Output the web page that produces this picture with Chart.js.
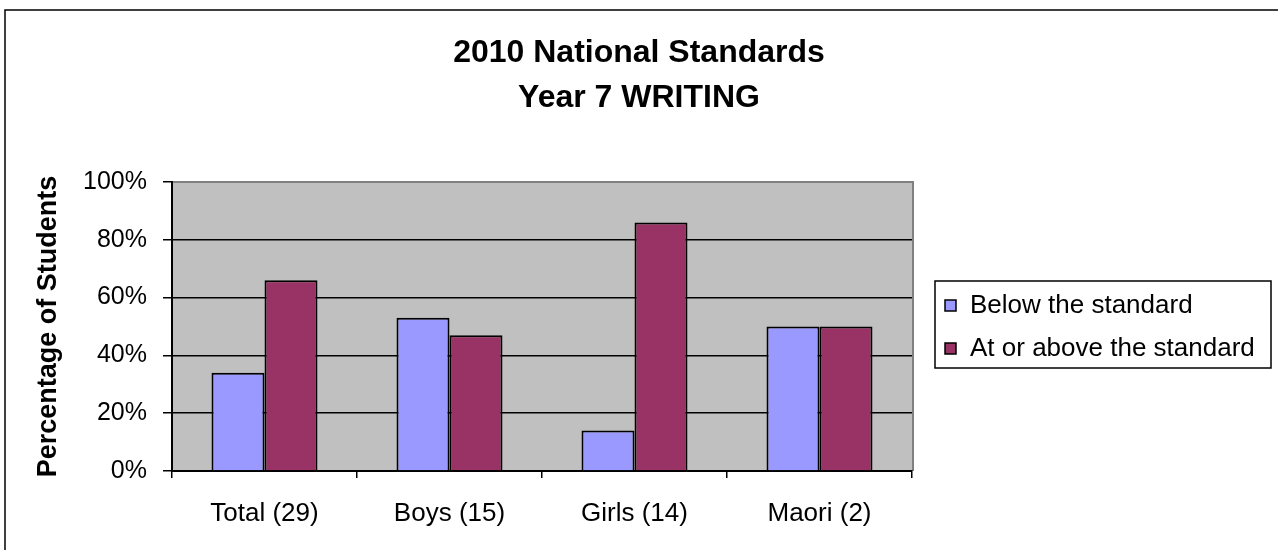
<!DOCTYPE html>
<html>
<head>
<meta charset="utf-8">
<script src="https://cdn.jsdelivr.net/npm/chart.js@4"></script>
<style>
  body { margin: 0; background: #fff; }
  canvas { display: block; }
</style>
</head>
<body>
<canvas id="myChart" width="1278" height="550"></canvas>
<script>
// Datos
const categorias = ['Total (29)', 'Boys (15)', 'Girls (14)', 'Maori (2)']
const debajo = [34, 53, 14, 50]
const encima = [66, 47, 86, 50]
const nombresSeries = ['Below the standard', 'At or above the standard']
const coloresSeries = ['#9999FF', '#993366']
const tituloLineas = ['2010 National Standards', 'Year 7 WRITING']
const tituloEjeY = 'Percentage of Students'

const ctx = document.getElementById('myChart')
const fuente = "'Liberation Sans', Arial, sans-serif"
Chart.defaults.font.family = fuente
Chart.defaults.color = '#000'

// Fondo gris del area, marco exterior y borde gris del area
const fondoPlugin = {
    id: 'fondo',
    beforeDraw: chart => {
        const c = chart.ctx
        const a = chart.chartArea
        c.save()
        c.fillStyle = '#fff'
        c.fillRect(0, 0, chart.width, chart.height)
        c.strokeStyle = '#000'
        c.lineWidth = 1.5
        c.strokeRect(5, 10, chart.width + 20, chart.height + 20)
        c.fillStyle = '#C0C0C0'
        c.fillRect(a.left, a.top, a.right - a.left, a.bottom - a.top)
        c.strokeStyle = '#808080'
        c.lineWidth = 2
        c.beginPath()
        c.moveTo(a.left, a.top)
        c.lineTo(a.right + 1, a.top)
        c.lineTo(a.right + 1, a.bottom)
        c.stroke()
        c.restore()
    }
}

// Titulo centrado en todo el lienzo (el de Chart.js se centra sin la leyenda)
const tituloPlugin = {
    id: 'tituloCentrado',
    afterDraw: chart => {
        const c = chart.ctx
        c.save()
        c.font = 'bold 32px ' + fuente
        c.fillStyle = '#000'
        c.textAlign = 'center'
        c.textBaseline = 'middle'
        tituloLineas.forEach((linea, i) => {
            c.fillText(linea, chart.width / 2, 53 + i * 45)
        })
        c.restore()
    }
}

// Leyenda con recuadro, a partir de los datasets
const leyendaPlugin = {
    id: 'leyendaCaja',
    afterDraw: chart => {
        const c = chart.ctx
        const a = chart.chartArea
        const x = a.right + 23
        const y = 281
        const w = 336
        const h = 87
        c.save()
        c.strokeStyle = '#000'
        c.lineWidth = 1.5
        c.strokeRect(x, y, w, h)
        c.font = '26px ' + fuente
        c.textBaseline = 'middle'
        chart.data.datasets.forEach((ds, i) => {
            const cy = y + 24 + i * 43
            c.fillStyle = ds.backgroundColor
            c.fillRect(x + 10, cy - 5, 11, 11)
            c.strokeStyle = '#000'
            c.lineWidth = 1.5
            c.strokeRect(x + 10, cy - 5, 11, 11)
            c.fillStyle = '#000'
            c.fillText(ds.label, x + 35, cy + 1)
        })
        c.restore()
    }
}

const data = {
    labels: categorias,
    datasets: [
        { label: nombresSeries[0], data: debajo, backgroundColor: coloresSeries[0] },
        { label: nombresSeries[1], data: encima, backgroundColor: coloresSeries[1] }
    ]
}

new Chart(ctx, {
    type: 'bar',
    data,
    plugins: [fondoPlugin, tituloPlugin, leyendaPlugin],
    options: {
        responsive: false,
        animation: false,
        layout: { padding: { left: 0, right: 366, top: 182, bottom: 0 } },
        datasets: {
            bar: {
                borderColor: '#000',
                borderWidth: 2,
                barPercentage: 1,
                categoryPercentage: 0.573
            }
        },
        plugins: {
            legend: { display: false },
            tooltip: { enabled: false },
            title: { display: false }
        },
        scales: {
            x: {
                afterFit: s => { s.height = 79 },
                grid: {
                    display: true,
                    drawOnChartArea: false,
                    drawTicks: true,
                    tickLength: 7,
                    color: '#000',
                    lineWidth: 1.5,
                    offset: true
                },
                border: { color: '#000', width: 2 },
                ticks: { font: { size: 26 }, padding: 20, color: '#000' }
            },
            y: {
                min: 0,
                max: 100,
                afterFit: s => { s.width = 172 },
                grid: {
                    color: c => c.tick && c.tick.value === 100 ? 'rgba(0,0,0,0)' : '#000',
                    tickColor: '#000',
                    lineWidth: 1.5,
                    tickLength: 9
                },
                border: { color: '#000', width: 2 },
                ticks: {
                    stepSize: 20,
                    font: { size: 25 },
                    padding: 16,
                    color: '#000',
                    callback: v => v + '%'
                },
                title: {
                    display: true,
                    text: tituloEjeY,
                    font: { size: 27, weight: 'bold' },
                    color: '#000',
                    padding: { top: 32, bottom: 0 }
                }
            }
        }
    }
})
</script>
</body>
</html>
